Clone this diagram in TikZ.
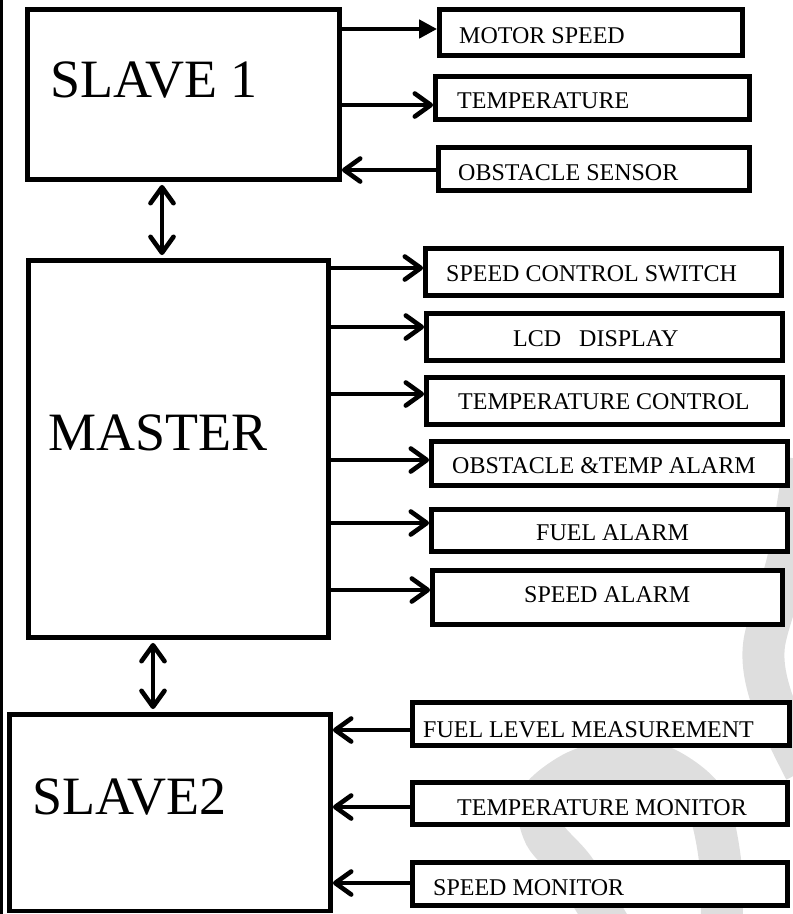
\documentclass[tikz,border=0pt]{standalone}
\usepackage{fontspec}
\setmainfont{Liberation Serif}
\usetikzlibrary{arrows.meta}
\begin{document}
\begin{tikzpicture}[x=1pt,y=-1pt,
 bigbox/.style={draw,line width=4.8pt,fill=white,inner sep=0pt,rectangle},
 smallbox/.style={draw,line width=4.8pt,fill=white,inner sep=0pt,rectangle},
 bigtext/.style={font=\fontsize{54}{60}\selectfont,anchor=base west,inner sep=0pt},
 smalltext/.style={font=\fontsize{24}{28}\selectfont,anchor=base west,inner sep=0pt},
 fwd/.style={line width=4.6pt,-{Straight Barb[length=16pt,width=23pt,round]}},
 tri/.style={line width=4.6pt,-{Triangle[length=18pt,width=18pt]}},
 both/.style={line width=4.6pt,{Straight Barb[length=16pt,width=23pt,round]}-{Straight Barb[length=16pt,width=23pt,round]}},
 wm/.style={line width=42pt,black!13,line cap=butt}
]
\useasboundingbox (0,0) rectangle (793,914);
% watermark
\begin{scope}
\clip (0,0) rectangle (793,914);
\draw[wm] plot[smooth] coordinates {(722,935) (720,860) (705,800) (665,768) (620,760) (575,772) (540,800) (545,835) (575,870) (615,935)};
\draw[wm] plot[smooth] coordinates {(805,460) (788,560) (764,645) (772,700) (805,770)};
\end{scope}
% left border line
\draw[line width=3pt] (1.5,0) -- (1.5,914);

% main boxes
\node[bigbox,minimum width=312pt,minimum height=170pt] (s1) at (183.5,94.5) {};
\node[bigbox,minimum width=300pt,minimum height=377pt] (ms) at (178.5,449) {};
\node[bigbox,minimum width=321pt,minimum height=196.5pt] (s2) at (170,812.75) {};
\node[bigtext] (ts1) at (50,97) {SLAVE 1};
\node[bigtext] (tms) at (48,450) {MASTER};
\node[bigtext] (ts2) at (32,814) {SLAVE2};

% slave 1 peripherals
\node[smallbox,minimum width=303pt,minimum height=46pt] (m1) at (591,32.5) {};
\node[smallbox,minimum width=314pt,minimum height=43pt] (m2) at (592.5,98) {};
\node[smallbox,minimum width=311pt,minimum height=43pt] (m3) at (594,169) {};
\node[smalltext] (tm1) at (459,43) {MOTOR SPEED};
\node[smalltext] (tm2) at (457,108) {TEMPERATURE};
\node[smalltext] (tm3) at (458,180) {OBSTACLE SENSOR};

% master peripherals
\node[smallbox,minimum width=356pt,minimum height=47pt] (r1) at (603.5,272) {};
\node[smallbox,minimum width=356pt,minimum height=47pt] (r2) at (604.5,337) {};
\node[smallbox,minimum width=356pt,minimum height=47pt] (r3) at (604.5,401) {};
\node[smallbox,minimum width=356pt,minimum height=44pt] (r4) at (609.5,463.5) {};
\node[smallbox,minimum width=356pt,minimum height=42pt] (r5) at (609.5,530.5) {};
\node[smallbox,minimum width=350pt,minimum height=54pt] (r6) at (607.5,597.5) {};
\node[smalltext] (tr1) at (446,281) {SPEED CONTROL SWITCH};
\node[smalltext] (tr2) at (513,346) {LCD~~~DISPLAY};
\node[smalltext] (tr3) at (458,409) {TEMPERATURE CONTROL};
\node[smalltext] (tr4) at (452,473) {OBSTACLE \&TEMP ALARM};
\node[smalltext] (tr5) at (536,540) {FUEL ALARM};
\node[smalltext] (tr6) at (524,602) {SPEED ALARM};

% slave 2 peripherals
\node[smallbox,minimum width=377pt,minimum height=43pt] (l1) at (601,724) {};
\node[smallbox,minimum width=375pt,minimum height=42pt] (l2) at (600,803.5) {};
\node[smallbox,minimum width=375pt,minimum height=43pt] (l3) at (600,884) {};
\node[smalltext] (tl1) at (423,737) {FUEL LEVEL MEASUREMENT};
\node[smalltext] (tl2) at (457,815) {TEMPERATURE MONITOR};
\node[smalltext] (tl3) at (433,895) {SPEED MONITOR};

% arrow anchor coordinates
\coordinate (am1) at ([yshift=3.5pt]m1.west);
\coordinate (am2) at ([yshift=-7pt]m2.west);
\coordinate (am3) at ([yshift=-1pt]m3.west);
\coordinate (ar1) at ([yshift=4pt]r1.west);
\coordinate (ar2) at ([yshift=10pt]r2.west);
\coordinate (ar3) at ([yshift=7pt]r3.west);
\coordinate (ar4) at ([yshift=3.5pt]r4.west);
\coordinate (ar5) at ([yshift=7.5pt]r5.west);
\coordinate (ar6) at ([yshift=7.5pt]r6.west);
\coordinate (al1) at ([yshift=-6pt]l1.west);
\coordinate (al2) at ([yshift=-3.5pt]l2.west);
\coordinate (al3) at ([yshift=1pt]l3.west);

% connectors
\draw[tri] (s1.east |- am1) -- (am1);
\draw[fwd] (s1.east |- am2) -- (am2);
\draw[fwd] (am3) -- (s1.east |- am3);
\draw[fwd] (ms.east |- ar1) -- (ar1);
\draw[fwd] (ms.east |- ar2) -- (ar2);
\draw[fwd] (ms.east |- ar3) -- (ar3);
\draw[fwd] (ms.east |- ar4) -- (ar4);
\draw[fwd] (ms.east |- ar5) -- (ar5);
\draw[fwd] (ms.east |- ar6) -- (ar6);
\draw[fwd] (al1) -- (s2.east |- al1);
\draw[fwd] (al2) -- (s2.east |- al2);
\draw[fwd] (al3) -- (s2.east |- al3);
\draw[both] ([xshift=-21.5pt,yshift=-3pt]s1.south) -- ([xshift=-16.5pt,yshift=3pt]ms.north);
\draw[both] ([xshift=-25.5pt,yshift=-3pt]ms.south) -- ([xshift=-17pt,yshift=3pt]s2.north);
\end{tikzpicture}
\end{document}
